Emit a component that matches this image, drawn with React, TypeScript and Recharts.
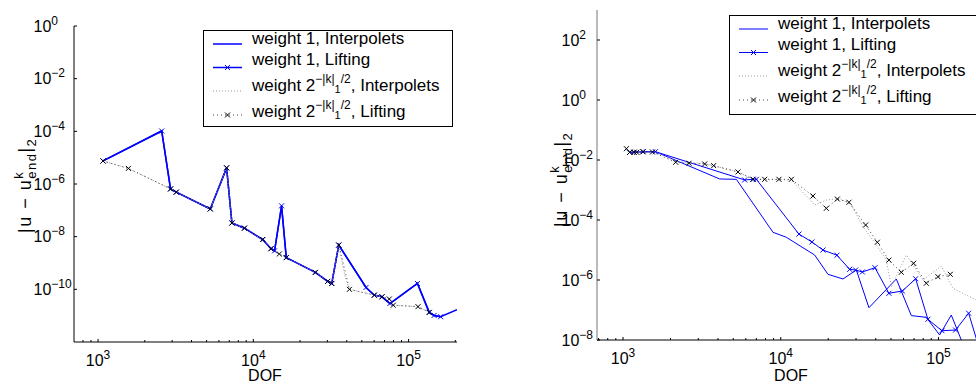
import React from 'react';
import { LineChart, Line, XAxis, YAxis, Legend } from 'recharts';

const FONT = '"Liberation Sans", Arial, Helvetica, sans-serif';

// ---------- Left panel data ----------
const leftW1LiftDof = [1077, 2570, 2930, 3190, 5280, 6730, 7280, 8770, 11500, 13000, 13700, 15200, 16300, 25100, 30100, 32000, 35500, 53200, 60100, 67400, 75800, 114000, 135800, 146000, 160700];
const leftW1LiftErr = [7.5e-6, 1.03e-4, 6.5e-7, 4.9e-7, 1.13e-7, 4.1e-6, 3.3e-8, 2.1e-8, 7.8e-9, 3.5e-9, 2.9e-9, 1.48e-7, 1.6e-9, 4.4e-10, 2.0e-10, 1.67e-10, 4.8e-9, 1.18e-10, 6.0e-11, 5.2e-11, 2.9e-11, 1.67e-10, 1.33e-11, 1.02e-11, 9.1e-12];

const leftW1IntDof = [1077, 2570, 2930, 3190, 5280, 6730, 7280, 8770, 11500, 13000, 13700, 15200, 16300, 25100, 30100, 32000, 35500, 53200, 60100, 67400, 75800, 114000, 135800, 146000, 160700, 205000];
const leftW1IntErr = [7.5e-6, 1.03e-4, 6.5e-7, 4.9e-7, 1.13e-7, 4.1e-6, 3.3e-8, 2.1e-8, 7.8e-9, 3.5e-9, 2.9e-9, 1.48e-7, 1.6e-9, 4.4e-10, 2.0e-10, 1.67e-10, 4.8e-9, 1.18e-10, 6.0e-11, 5.2e-11, 2.9e-11, 1.67e-10, 1.33e-11, 1.02e-11, 9.1e-12, 1.7e-11];

const leftW2LiftDof = [1077, 1568, 2930, 3190, 5280, 6730, 7280, 8770, 11500, 13000, 14700, 16300, 25100, 30100, 32000, 35500, 41600, 60100, 67400, 75100, 79700, 115000, 135800];
const leftW2LiftErr = [7.5e-6, 3.9e-6, 6.5e-7, 4.9e-7, 1.13e-7, 4.1e-6, 3.3e-8, 2.1e-8, 7.8e-9, 3.5e-9, 2.2e-9, 1.6e-9, 4.4e-10, 2.0e-10, 1.67e-10, 4.8e-9, 1.0e-10, 6.0e-11, 5.2e-11, 4.3e-11, 2.5e-11, 2.2e-11, 1.33e-11];

const leftW2IntDof = [1077, 1568, 2930, 3190, 5280, 6730, 7280, 8770, 11500, 13000, 14700, 16300, 25100, 30100, 32000, 35500, 39000, 41600, 60100, 67400, 75100, 79700, 115000, 135800];
const leftW2IntErr = [7.5e-6, 3.9e-6, 6.5e-7, 4.9e-7, 1.13e-7, 4.1e-6, 3.3e-8, 2.1e-8, 7.8e-9, 3.5e-9, 2.2e-9, 1.6e-9, 4.4e-10, 2.0e-10, 1.67e-10, 4.8e-9, 3.0e-10, 1.0e-10, 6.0e-11, 5.2e-11, 4.3e-11, 2.5e-11, 2.2e-11, 1.33e-11];

// ---------- Right panel data ----------
const rightW1LiftDof = [1103, 1174, 1339, 1605, 5905, 6665, 7003, 13040, 15760, 18510, 22710, 27330, 29830, 32890, 39540, 48490, 58970, 71600, 85640, 105100, 128300, 155200, 185000];
const rightW1LiftErr = [1.81e-2, 1.81e-2, 1.89e-2, 1.89e-2, 2.16e-3, 2.27e-3, 2.27e-3, 3.4e-5, 1.85e-5, 1.0e-5, 6.7e-6, 2.27e-6, 2.15e-6, 1.85e-6, 2.57e-6, 3.6e-7, 4.3e-7, 1.1e-6, 4.9e-8, 2.04e-8, 2.15e-8, 7.8e-8, 3.7e-9];

const rightW1IntDof = [1103, 1605, 4101, 5231, 8925, 10850, 16400, 19910, 24790, 30140, 36220, 54030, 67240, 83670, 101600, 120500, 139500, 150000];
const rightW1IntErr = [1.81e-2, 1.89e-2, 2.33e-3, 2.27e-3, 3.9e-5, 2.65e-5, 6.8e-6, 1.55e-6, 1.08e-6, 2.15e-6, 1.19e-7, 1.08e-6, 6.5e-8, 5.7e-8, 1.47e-8, 6.8e-8, 1.0e-8, 3.0e-9];

const rightW2LiftDof = [1051, 1103, 1174, 1221, 1339, 1536, 2158, 2620, 3294, 3756, 5355, 6665, 7907, 9741, 11675, 15996, 19450, 22840, 27050, 34510, 40950, 48490, 58120, 69540, 83670, 99130, 118800];
const rightW2LiftErr = [2.38e-2, 1.81e-2, 1.81e-2, 1.81e-2, 1.89e-2, 1.85e-2, 8.4e-3, 7.8e-3, 7.4e-3, 6.5e-3, 4.0e-3, 2.27e-3, 2.27e-3, 2.27e-3, 2.27e-3, 6.3e-4, 2.45e-4, 5.0e-4, 3.9e-4, 6.8e-5, 1.81e-5, 4.6e-6, 1.81e-6, 3.6e-6, 7.8e-7, 1.29e-6, 1.55e-6];

const rightW2IntDof = [1103, 1605, 2158, 3294, 5355, 6665, 11675, 16400, 19450, 23620, 28020, 33180, 40350, 46700, 50220, 62520, 79640, 104200, 123400, 165200, 200000];
const rightW2IntErr = [1.81e-2, 1.85e-2, 9.0e-3, 7.6e-3, 4.0e-3, 2.27e-3, 2.16e-3, 3.16e-4, 4.6e-4, 5.3e-4, 3.16e-4, 6.0e-5, 1.47e-5, 4.6e-6, 6.0e-7, 6.8e-6, 1.0e-6, 2.9e-6, 5.3e-7, 2.45e-7, 1.5e-7];

// ---------- ticks ----------
const leftXTicks = [800, 900, 1000, 2000, 3000, 4000, 5000, 6000, 7000, 8000, 9000, 10000, 20000, 30000, 40000, 50000, 60000, 70000, 80000, 90000, 100000, 200000];
const rightXTicks = [700, 800, 900, 1000, 2000, 3000, 4000, 5000, 6000, 7000, 8000, 9000, 10000, 20000, 30000, 40000, 50000, 60000, 70000, 80000, 90000, 100000, 200000];
const leftYTicks = [1e-10, 1e-8, 1e-6, 1e-4, 1e-2, 1];
const rightYTicks = [1e-8, 1e-6, 1e-4, 1e-2, 1, 1e2];

const legendLabels = ['weight 1, Interpolets', 'weight 1, Lifting', 'Interpolets', 'Lifting'];

const pts = (xs: number[], ys: number[]) => xs.map((x, i) => ({ x, y: ys[i] }));

const expText = (v: number) => {
  const e = Math.round(Math.log10(v));
  return e < 0 ? '\u2212' + String(-e) : String(e);
};

const XTick = (props: any) => {
  const { x, y, payload } = props;
  const v = payload.value;
  const lg = Math.log10(v);
  const major = Math.abs(lg - Math.round(lg)) < 1e-9;
  return (
    <g>
      <line x1={x} x2={x} y1={y} y2={y - (major ? 3 : 2)} stroke="#000" strokeWidth={1} />
      {major && (
        <text x={x} y={y + 24} textAnchor="middle" fontFamily={FONT} fontSize={16} fill="#000">
          10<tspan dy={-7} fontSize={12}>{expText(v)}</tspan>
        </text>
      )}
    </g>
  );
};

const makeYTick = (offset: number) => (props: any) => {
  const { x, y, payload } = props;
  return (
    <g>
      <line x1={x} x2={x + 3} y1={y} y2={y} stroke="#000" strokeWidth={1} />
      <text x={x - offset} y={y + 5.5} fontFamily={FONT} fontSize={16} fill="#000">
        10<tspan dy={-7} fontSize={12}>{expText(payload.value)}</tspan>
      </text>
    </g>
  );
};

const makeDot = (color: string) => (props: any) => {
  const { cx, cy, index } = props;
  if (cx == null || cy == null) return <g key={index} />;
  const s = 2.5;
  return (
    <path
      key={index}
      d={`M${cx - s},${cy - s}L${cx + s},${cy + s}M${cx - s},${cy + s}L${cx + s},${cy - s}`}
      stroke={color}
      strokeWidth={1}
      fill="none"
    />
  );
};

const YLabel = ({ x, y }: { x: number; y: number }) => (
  <text transform={`translate(${x},${y}) rotate(-90)`} fontFamily={FONT} fontSize={18} letterSpacing={1.5} fill="#000">
    |u − u<tspan dy={-8} fontSize={13}>k</tspan>
    <tspan dx={-8} dy={13} fontSize={13}>end</tspan>
    <tspan dy={-5}>|</tspan>
    <tspan dy={5} fontSize={13}>2</tspan>
  </text>
);

const W2Text = ({ x, y, tail }: { x: number; y: number; tail: string }) => (
  <text x={x} y={y} fontFamily={FONT} fontSize={17} fill="#000">
    weight 2<tspan dy={-8} fontSize={12}>−|k|</tspan>
    <tspan dy={10} fontSize={11}>1</tspan>
    <tspan dy={-10} fontSize={12}>/2</tspan>
    <tspan dy={8}>, {tail}</tspan>
  </text>
);

const LegendBox = ({ w, h, lw }: { w: number; h: number; lw: number }) => {
  const lx1 = 10, lx2 = 39, tx = 49;
  const ly = [14, 37.5, 61, 85];
  const ty = [13.5, 35, 61, 87];
  const cx = (lx1 + lx2) / 2;
  const s = 2.5;
  const xm = (c: number, yy: number, color: string) => (
    <path d={`M${c - s},${yy - s}L${c + s},${yy + s}M${c - s},${yy + s}L${c + s},${yy - s}`} stroke={color} strokeWidth={1} />
  );
  return (
    <svg width={w} height={h} style={{ display: 'block', overflow: 'visible' }}>
      <rect x={0.5} y={0.5} width={w - 1} height={h - 1} fill="#fff" stroke="#000" strokeWidth={1} />
      <line x1={lx1} x2={lx2} y1={ly[0]} y2={ly[0]} stroke="#0000ff" strokeWidth={lw} />
      <text x={tx} y={ty[0]} fontFamily={FONT} fontSize={17} fill="#000">{legendLabels[0]}</text>
      <line x1={lx1} x2={lx2} y1={ly[1]} y2={ly[1]} stroke="#0000ff" strokeWidth={lw} />
      {xm(cx, ly[1], '#0000ff')}
      <text x={tx} y={ty[1]} fontFamily={FONT} fontSize={17} fill="#000">{legendLabels[1]}</text>
      <line x1={lx1} x2={lx2} y1={ly[2]} y2={ly[2]} stroke="#999" strokeWidth={1} strokeDasharray="1 2" />
      <W2Text x={tx} y={ty[2]} tail={legendLabels[2]} />
      <line x1={lx1} x2={lx2} y1={ly[3]} y2={ly[3]} stroke="#444" strokeWidth={1} strokeDasharray="1 3" />
      {xm(cx, ly[3], '#000')}
      <W2Text x={tx} y={ty[3]} tail={legendLabels[3]} />
    </svg>
  );
};

const Panel = (p: {
  width: number; height: number; margin: any; yWidth: number; xHeight: number;
  xDomain: [number, number]; yDomain: [number, number]; xTicks: number[]; yTicks: number[];
  yOffset: number; yAxisColor: string; lw: number;
  w1i: any[]; w1l: any[]; w2i: any[]; w2l: any[];
  legend: { left: number; top: number; w: number; h: number };
  yLabel: { x: number; y: number }; dof: { x: number; y: number };
}) => (
  <LineChart width={p.width} height={p.height} margin={p.margin}>
    <XAxis
      dataKey="x" type="number" scale="log" domain={p.xDomain} allowDataOverflow
      ticks={p.xTicks} interval={0} tick={<XTick />} tickLine={false} tickSize={0} tickMargin={0}
      axisLine={{ stroke: '#000', strokeWidth: 1 }} height={p.xHeight}
      label={{ content: () => <text x={p.dof.x} y={p.dof.y} textAnchor="middle" fontFamily={FONT} fontSize={16} fill="#000">DOF</text> }}
    />
    <YAxis
      dataKey="y" type="number" scale="log" domain={p.yDomain} allowDataOverflow
      ticks={p.yTicks} interval={0} tick={makeYTick(p.yOffset)} tickLine={false} tickSize={0} tickMargin={0}
      axisLine={{ stroke: p.yAxisColor, strokeWidth: 1 }} width={p.yWidth}
      label={{ content: () => <YLabel x={p.yLabel.x} y={p.yLabel.y} /> }}
    />
    <Legend
      layout="vertical" align="center" verticalAlign="middle"
      wrapperStyle={{ position: 'absolute', left: p.legend.left, top: p.legend.top, width: p.legend.w, height: p.legend.h, bottom: 'auto', right: 'auto' }}
      content={() => <LegendBox w={p.legend.w} h={p.legend.h} lw={p.lw} />}
    />
    <Line data={p.w1i} dataKey="y" stroke="#0000ff" strokeWidth={p.lw} dot={false} activeDot={false} isAnimationActive={false} />
    <Line data={p.w1l} dataKey="y" stroke="#0000ff" strokeWidth={p.lw} dot={makeDot('#0000ff')} activeDot={false} isAnimationActive={false} />
    <Line data={p.w2i} dataKey="y" stroke="#999" strokeWidth={1} strokeDasharray="1 2" dot={false} activeDot={false} isAnimationActive={false} />
    <Line data={p.w2l} dataKey="y" stroke="#444" strokeWidth={1} strokeDasharray="1 3" dot={makeDot('#000')} activeDot={false} isAnimationActive={false} />
  </LineChart>
);

export default function App() {
  return (
    <div style={{ position: 'absolute', left: 0, top: 0, width: 976, height: 385, overflow: 'hidden', background: '#fff' }}>
      <div style={{ position: 'absolute', left: 0, top: 0 }}>
        <Panel
          width={480} height={385} margin={{ top: 26, right: 23, bottom: 0, left: 0 }}
          yWidth={74} xHeight={43} xDomain={[700, 205000]} yDomain={[1e-12, 1]}
          xTicks={leftXTicks} yTicks={leftYTicks} yOffset={40.5} yAxisColor="#000" lw={1.5}
          w1i={pts(leftW1IntDof, leftW1IntErr)} w1l={pts(leftW1LiftDof, leftW1LiftErr)}
          w2i={pts(leftW2IntDof, leftW2IntErr)} w2l={pts(leftW2LiftDof, leftW2LiftErr)}
          legend={{ left: 203, top: 30, w: 250, h: 97 }}
          yLabel={{ x: 31, y: 233 }} dof={{ x: 265, y: 381 }}
        />
      </div>
      <div style={{ position: 'absolute', left: 490, top: 0 }}>
        <Panel
          width={520} height={385} margin={{ top: 10, right: 24, bottom: 0, left: 0 }}
          yWidth={107} xHeight={45} xDomain={[684, 200000]} yDomain={[1e-8, 1000]}
          xTicks={rightXTicks} yTicks={rightYTicks} yOffset={35.5} yAxisColor="#777" lw={1}
          w1i={pts(rightW1IntDof, rightW1IntErr)} w1l={pts(rightW1LiftDof, rightW1LiftErr)}
          w2i={pts(rightW2IntDof, rightW2IntErr)} w2l={pts(rightW2LiftDof, rightW2LiftErr)}
          legend={{ left: 239, top: 15, w: 252, h: 100 }}
          yLabel={{ x: 77, y: 227 }} dof={{ x: 301, y: 381 }}
        />
      </div>
    </div>
  );
}
